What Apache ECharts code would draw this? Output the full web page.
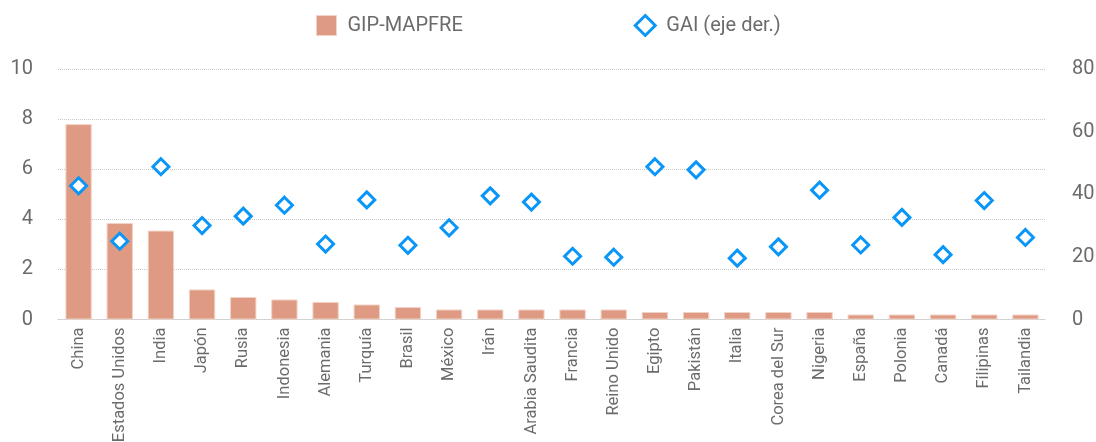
<!DOCTYPE html>
<html>
<head>
<meta charset="utf-8">
<script src="https://cdn.jsdelivr.net/npm/echarts@6/dist/echarts.min.js"></script>
<style>
html,body{margin:0;padding:0;background:#fff;}
#chart{width:1096px;height:442px;}
</style>
</head>
<body>
<div id="chart"></div>
<script>
var categories = ["China","Estados Unidos","India","Japón","Rusia","Indonesia","Alemania","Turquía","Brasil","México","Irán","Arabia Saudita","Francia","Reino Unido","Egipto","Pakistán","Italia","Corea del Sur","Nigeria","España","Polonia","Canadá","Filipinas","Tailandia"];
var gipMapfre = [7.8,3.85,3.55,1.2,0.9,0.8,0.7,0.6,0.5,0.4,0.4,0.4,0.4,0.4,0.3,0.3,0.3,0.3,0.3,0.2,0.2,0.2,0.2,0.2];
var gai = [42.7,25.0,48.8,30.0,33.0,36.5,24.1,38.2,23.7,29.3,39.5,37.5,20.2,19.9,48.8,47.8,19.6,23.2,41.3,23.8,32.6,20.7,38.0,26.2];
var leftTicks = {min:0,max:10,interval:2};
var rightTicks = {min:0,max:80,interval:20};

var FONT = 'Roboto';
var GREY = '#6b6b6b';
var BAR = '#de9a82';
var BLUE = '#0a96f7';

var chart = echarts.init(document.getElementById('chart'), null, {renderer:'canvas'});
chart.setOption({
  animation:false,
  textStyle:{fontFamily:FONT},
  legend:{
    top:14,
    left:316,
    padding:0,
    itemGap:171,
    itemWidth:20,
    itemHeight:20,
    textStyle:{fontFamily:FONT,fontSize:20,color:GREY,padding:[0,0,0,6]},
    data:[
      {name:'GIP-MAPFRE',icon:'rect',itemStyle:{color:BAR,borderColor:'#f3d3c7',borderWidth:1}},
      {name:'GAI (eje der.)',icon:'diamond',itemStyle:{color:'#fff',borderColor:BLUE,borderWidth:3}}
    ]
  },
  grid:{left:58,right:50,top:69,bottom:122.5,containLabel:false,outerBoundsMode:'none'},
  xAxis:{
    type:'category',
    data:categories,
    axisLine:{show:true,lineStyle:{color:'#c8c8c8',type:'dotted',width:1}},
    axisTick:{show:false},
    axisLabel:{rotate:90,fontFamily:FONT,fontSize:16.5,color:GREY,margin:8,interval:0}
  },
  yAxis:[
    {type:'value',min:leftTicks.min,max:leftTicks.max,interval:leftTicks.interval,
     axisLine:{show:false},axisTick:{show:false},
     axisLabel:{fontFamily:FONT,fontSize:20,color:GREY,margin:25},
     splitLine:{show:true,lineStyle:{color:'#c8c8c8',type:'dotted',width:1}}},
    {type:'value',min:rightTicks.min,max:rightTicks.max,interval:rightTicks.interval,position:'right',
     axisLine:{show:false},axisTick:{show:false},
     axisLabel:{fontFamily:FONT,fontSize:20,color:GREY,margin:26},
     splitLine:{show:false}}
  ],
  series:[
    {name:'GIP-MAPFRE',type:'bar',data:gipMapfre,yAxisIndex:0,barWidth:'64%',
     itemStyle:{color:BAR,borderColor:'#f3d3c7',borderWidth:1}},
    {name:'GAI (eje der.)',type:'scatter',data:gai,yAxisIndex:1,symbol:'diamond',symbolSize:16,
     itemStyle:{color:'#fff',borderColor:BLUE,borderWidth:3,opacity:1}}
  ]
});
</script>
</body>
</html>
